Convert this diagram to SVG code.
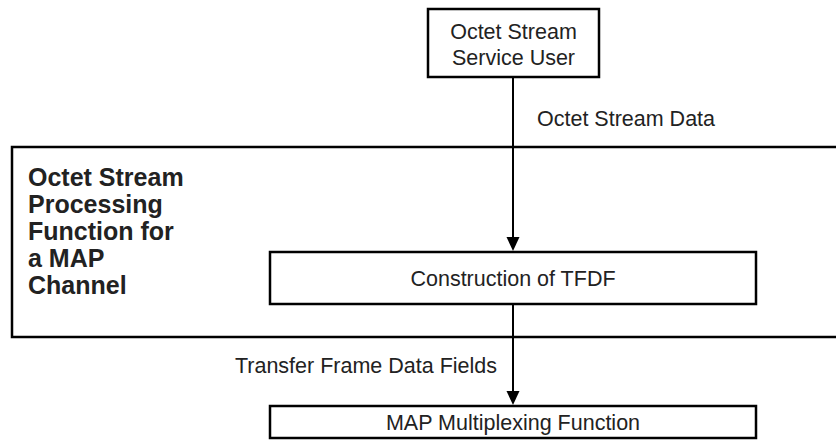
<svg xmlns="http://www.w3.org/2000/svg" width="836" height="441" viewBox="0 0 836 441">
<style>
.box{fill:#fff;stroke:#000;stroke-width:2.5}
.t{font-family:"Liberation Sans",Arial,sans-serif;font-size:21.5px;fill:#222}
.tb{font-family:"Liberation Sans",Arial,sans-serif;font-size:25px;font-weight:bold;fill:#222}
.c{text-anchor:middle}
.ln{stroke:#000;stroke-width:2;fill:none}
</style>
<g id="processing-function">
<rect class="box" x="12" y="147" width="830" height="190"/>
<text class="tb" x="28" y="186">Octet Stream</text>
<text class="tb" x="28" y="213">Processing</text>
<text class="tb" x="28" y="240">Function for</text>
<text class="tb" x="28" y="267">a MAP</text>
<text class="tb" x="28" y="294">Channel</text>
</g>
<g id="service-user">
<rect class="box" x="428" y="9" width="171" height="68"/>
<text class="t c" x="513.5" y="39">Octet Stream</text>
<text class="t c" x="513.5" y="65">Service User</text>
</g>
<g id="construction">
<rect class="box" x="270" y="252" width="486" height="52"/>
<text class="t c" x="513" y="286">Construction of TFDF</text>
</g>
<g id="map-mux">
<rect class="box" x="270" y="406" width="486" height="32"/>
<text class="t c" x="513" y="430">MAP Multiplexing Function</text>
</g>
<g id="connectors">
<line class="ln" x1="513" y1="77" x2="513" y2="240"/>
<path d="M506.5,237 L519.5,237 L513,251 Z" fill="#000"/>
<text class="t" x="537" y="126">Octet Stream Data</text>
<line class="ln" x1="513" y1="304" x2="513" y2="394"/>
<path d="M506.5,391 L519.5,391 L513,405 Z" fill="#000"/>
<text class="t" x="497" y="373" text-anchor="end">Transfer Frame Data Fields</text>
</g>
</svg>
